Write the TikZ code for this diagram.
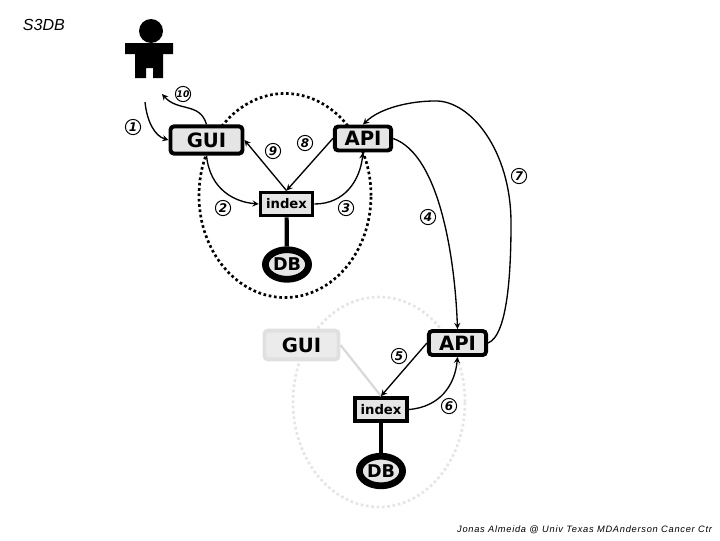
\documentclass[tikz,border=0pt]{standalone}
\usepackage{fontspec}
\setmainfont{DejaVu Sans}
\newfontfamily\titlefont{Liberation Sans}
\newfontfamily\footfont[LetterSpace=8]{Liberation Sans}
\usetikzlibrary{shapes.geometric}
\begin{document}
\begin{tikzpicture}[
    x=0.025cm, y=-0.025cm,
    box/.style={rectangle, draw, fill=black!10, line width=2.8pt, rounded corners=2.5pt, inner sep=0pt, font=\bfseries\fontsize{14}{16}\selectfont},
    indexbox/.style={rectangle, draw, fill=black!10, line width=2.6pt, inner sep=0pt, minimum width=1.3cm, minimum height=0.58cm, font=\bfseries\fontsize{9.4}{11}\selectfont},
    dbnode/.style={ellipse, draw, fill=black!10, line width=4.8pt, inner sep=0pt, minimum width=1.08cm, minimum height=0.74cm, font=\bfseries\fontsize{12.5}{14}\selectfont},
    ring/.style={ellipse, draw, fill=none, inner sep=0pt, line width=1.9pt, dash pattern=on 1.9pt off 1.9pt, minimum width=4.3cm},
    num/.style={circle, draw, fill=white, line width=0.7pt, inner sep=0pt, minimum size=0.38cm, font=\bfseries\itshape\fontsize{8.5}{10}\selectfont},
    arrow/.style={->, >=stealth, line width=0.95pt},
    link/.style={line width=3pt}
]
\useasboundingbox (0,0) rectangle (720,540);

\node[anchor=west, font=\titlefont\itshape\fontsize{11.4}{13}\selectfont] (title) at (18,25) {S3DB};
\node[anchor=east, font=\footfont\itshape\fontsize{6.6}{8}\selectfont] (foot) at (717,530) {Jonas Almeida @ Univ Texas MDAnderson Cancer Ctr};

% person
\fill (151,31) circle (12);
\fill (125,43) -- (173,43) -- (173,54) -- (163,54) -- (163,78) -- (153,78) -- (153,68) -- (146,68) -- (146,78) -- (135,78) -- (135,54) -- (125,54) -- cycle;
\coordinate (userin) at (145,102);
\coordinate (userout) at (162,94);

% first site
\node[ring, minimum width=4.3cm, minimum height=5.1cm] (ringa) at (285,195.5) {};
\node[box, minimum width=1.8cm, minimum height=0.68cm] (gui) at (206.5,140) {GUI};
\node[box, minimum width=1.41cm, minimum height=0.6cm] (api) at (363,138.5) {API};
\node[indexbox] (index) at (286.5,204) {index};
\node[dbnode] (db) at (287,264.5) {DB};
\draw[link] (index) -- (db);

% second site
\node[ring, draw=black!10, minimum width=4.3cm, minimum height=5.25cm] (ringb) at (379,402) {};
\node[box, draw=black!12, fill=black!8, minimum width=1.85cm, minimum height=0.72cm] (guib) at (301.5,345) {GUI};
\node[box, minimum width=1.43cm, minimum height=0.6cm] (apib) at (457.5,343) {API};
\node[indexbox] (indexb) at (381,409.5) {index};
\node[dbnode] (dbb) at (381,471) {DB};
\draw[link] (indexb) -- (dbb);
\draw[black!15, line width=1.6pt] (guib.east) -- (indexb.north);

\draw[arrow] (userin) .. controls (147,122) and (155,136) .. (gui.west);
\draw[arrow] (gui.north) .. controls (200,102) and (178,112) .. (userout);
\draw[arrow] (gui.south) .. controls (210,190) and (235,202) .. (index.west);
\draw[arrow] (index.east) .. controls (345,204) and (360,180) .. (api.south);
\draw[arrow] (api.west) -- (index.north);
\draw[arrow] (index.north) -- (gui.east);
\draw[arrow] (api.east) .. controls (440,155) and (455,260) .. (apib.north);
\draw[arrow] (apib.west) -- (indexb.north);
\draw[arrow] (indexb.east) .. controls (440,407) and (455,385) .. (apib.south);
\draw[arrow] (apib.east) .. controls (508,335) and (511,270) .. (511,223) .. controls (511,150) and (470,100) .. (435,101) .. controls (410,101) and (380,108) .. (api.north);

\node[num] (n1) at (133,127) {1};
\node[num] (n2) at (223,208) {2};
\node[num] (n3) at (346,208) {3};
\node[num] (n4) at (428,217) {4};
\node[num] (n5) at (399,356) {5};
\node[num] (n6) at (449,406) {6};
\node[num] (n7) at (519,176) {7};
\node[num] (n8) at (305,143) {8};
\node[num] (n9) at (273,151) {9};
\node[num, font=\bfseries\itshape\fontsize{6.5}{8}\selectfont] (n10) at (183,94) {10};
\end{tikzpicture}
\end{document}
